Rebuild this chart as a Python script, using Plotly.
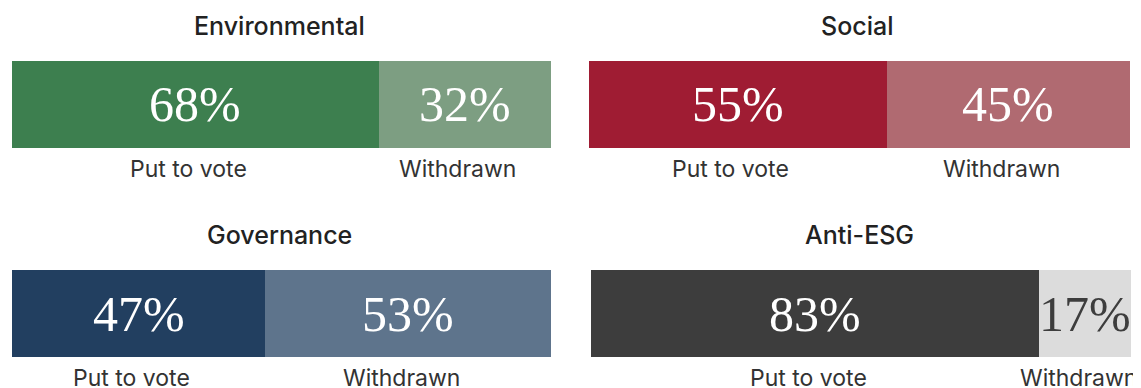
import plotly.graph_objects as go

categories = ["Environmental", "Social", "Governance", "Anti-ESG"]
put_to_vote = [68, 55, 47, 83]
withdrawn = [32, 45, 53, 17]
segment_labels = ["Put to vote", "Withdrawn"]

dark_colors = ["#3d7f4f", "#9f1c33", "#223f60", "#3d3d3d"]
light_colors = ["#7d9e82", "#b06a71", "#5e748c", "#dcdcdc"]
light_text = ["white", "white", "white", "#3d3d3d"]

W, H = 1141, 388
# panel boxes in pixels: (x0, x1, y_top, y_bottom); page adds an 8px body margin
boxes = [(4, 543, 53, 140), (581, 1122, 53, 140),
         (4, 543, 262, 349), (583, 1123, 262, 349)]

TITLE_FONT = dict(family="Inter, Lato, sans-serif", size=25, color="#222222", weight=500)
LABEL_FONT = dict(family="Inter, Lato, sans-serif", size=23, color="#333333")
PCT_FONT = "Liberation Serif, Times New Roman, serif"

fig = go.Figure()
annotations = []

for i, cat in enumerate(categories):
    x0, x1, yt, yb = boxes[i]
    n = "" if i == 0 else str(i + 1)
    xa, ya = "x" + n, "y" + n
    vals = [put_to_vote[i], withdrawn[i]]
    cols = [dark_colors[i], light_colors[i]]
    tcols = ["white", light_text[i]]
    base = 0
    for j, v in enumerate(vals):
        fig.add_trace(go.Bar(
            x=[v], y=[cat], base=[base], orientation="h",
            marker=dict(color=cols[j], line=dict(width=0)),
            width=1, xaxis=xa, yaxis=ya, showlegend=False,
            hoverinfo="skip",
        ))
        mid = base + v / 2
        annotations.append(dict(
            x=mid, y=cat, xref=xa, yref=ya, text=f"{v}%", showarrow=False,
            font=dict(family=PCT_FONT, size=50, color=tcols[j]),
        ))
        annotations.append(dict(
            x=mid, y=-0.5, xref=xa, yref=ya, text=segment_labels[j],
            showarrow=False, yanchor="top", yshift=-5, xshift=-7,
            font=LABEL_FONT,
        ))
        base += v
    annotations.append(dict(
        x=50, y=0.5, xref=xa, yref=ya, text=cat, showarrow=False,
        yanchor="bottom", yshift=18, xshift=-2, font=TITLE_FONT,
    ))
    fig.update_layout(**{
        ("xaxis" + n): dict(domain=[x0 / W, x1 / W], range=[0, 100],
                            visible=False, fixedrange=True),
        ("yaxis" + n): dict(domain=[1 - yb / H, 1 - yt / H], range=[-0.5, 0.5],
                            visible=False, fixedrange=True),
    })

fig.update_layout(
    width=W, height=H,
    margin=dict(l=0, r=0, t=0, b=0),
    plot_bgcolor="white", paper_bgcolor="white",
    barmode="overlay", bargap=0,
    annotations=annotations,
)

fig.write_html("out.html")
